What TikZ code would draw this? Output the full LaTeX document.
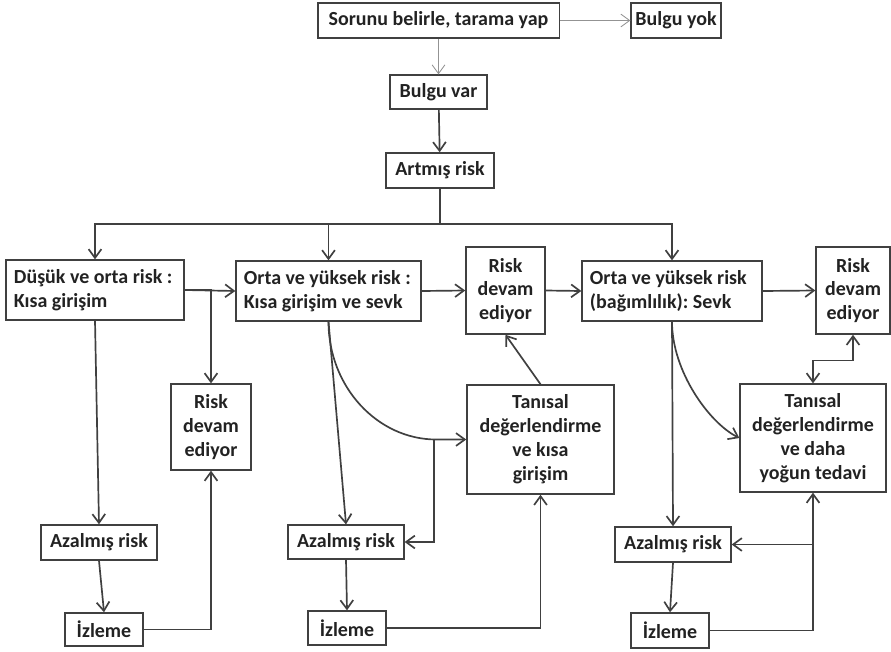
\documentclass[tikz,border=0pt]{standalone}
\usepackage{fontspec}
\setmainfont{Carlito}
\usetikzlibrary{arrows.meta,positioning}
\definecolor{boxLine}{RGB}{64,64,64}
\definecolor{textDark}{RGB}{34,34,34}
\frenchspacing

\begin{document}
\begin{tikzpicture}[
    x=0.025cm, y=-0.025cm,
    box/.style={draw=boxLine, line width=0.9pt, text=textDark, inner sep=0pt,
      font=\bfseries\fontsize{14.2}{17}\selectfont, align=center},
    lbox/.style={box, align=flush left, inner xsep=0.2cm},
    link/.style={->, line width=1.2pt, draw=boxLine},
    faint/.style={->, line width=0.6pt, draw=gray!85},
    >={Straight Barb[length=2.2mm,width=3.2mm]}
  ]
  \useasboundingbox (0,0) rectangle (891,651);

  % top of the chart
  \node[box, minimum width=6.03cm, minimum height=0.88cm] (sorun) at (438.5,20.5) {Sorunu belirle, tarama yap};
  \node[box, minimum width=2.25cm, minimum height=0.88cm] (yok) at (676,20.5) {Bulgu yok};
  \node[box, minimum width=2.43cm, minimum height=0.85cm] (var) at (438.5,92) {Bulgu var};
  \node[box, minimum width=2.7cm, minimum height=0.88cm] (artmis) at (440,170.5) {Artmış risk};

  % risk levels
  \node[lbox, text width=4.05cm, minimum height=1.5cm] (dusuk) at (95,290) {Düşük ve orta risk :\\Kısa girişim};
  \node[lbox, text width=4.225cm, minimum height=1.5cm] (ortaA) at (328.5,291) {Orta ve yüksek risk :\\Kısa girişim ve sevk};
  \node[box, minimum width=1.98cm, minimum height=2.18cm] (devamA) at (505.5,290.5) {Risk\\devam\\ediyor};
  \node[lbox, text width=4.1cm, minimum height=1.5cm] (ortaB) at (672,291) {Orta ve yüksek risk\\(bağımlılık): Sevk};
  \node[box, minimum width=1.85cm, minimum height=2.18cm] (devamB) at (853,290.5) {Risk\\devam\\ediyor};

  % second row
  \node[box, minimum width=2.0cm, minimum height=2.15cm] (devamL) at (211,427) {Risk\\devam\\ediyor};
  \node[box, minimum width=3.68cm, minimum height=2.73cm] (tanA) at (540.5,439.5) {Tanısal\\değerlendirme\\ve kısa\\girişim};
  \node[box, minimum width=3.65cm, minimum height=2.7cm] (tanB) at (813,438) {Tanısal\\değerlendirme\\ve daha\\yoğun tedavi};

  % bottom rows
  \node[box, minimum width=2.9cm, minimum height=0.88cm] (azL) at (99,542.5) {Azalmış risk};
  \node[box, minimum width=1.95cm, minimum height=0.83cm] (izL) at (104,629.5) {İzleme};
  \node[box, minimum width=2.9cm, minimum height=0.85cm] (azA) at (346,542) {Azalmış risk};
  \node[box, minimum width=1.95cm, minimum height=0.85cm] (izA) at (347,628) {İzleme};
  \node[box, minimum width=2.9cm, minimum height=0.88cm] (azB) at (673,544.5) {Azalmış risk};
  \node[box, minimum width=1.95cm, minimum height=0.88cm] (izB) at (670,630.5) {İzleme};

  % connectors
  \draw[faint] (sorun) -- (yok);
  \draw[faint] (sorun) -- (var);
  \draw[link] (var) -- (artmis);
  \draw[link] (artmis.south) -- ++(0,35) -| (dusuk.north);
  \draw[link] (artmis.south) -- ++(0,35) -| (ortaA.north);
  \draw[link] (artmis.south) -- ++(0,35) -| (ortaB.north);

  \draw[link] (dusuk.east) -- (ortaA.west);
  \draw[link] (dusuk.east) -| (devamL.north);
  \draw[link] (ortaA.east) -- (devamA.west);
  \draw[link] (devamA.east) -- (ortaB.west);
  \draw[link] (ortaB.east) -- (devamB.west);

  \draw[link] (dusuk.south) -- (azL.north);
  \draw[link] (azL.south) -- (izL.north);
  \draw[link] (izL.east) -| (devamL.south);

  \draw[link] (ortaA.south) -- (azA.north);
  \draw[link] (ortaA.south) .. controls +(0,65) and +(-59,0) .. ([xshift=-0.75cm]tanA.west) -- (tanA.west);
  \draw[link] (tanA.west) -- ++(-32,0) |- (azA.east);
  \draw[link] (tanA.north) -- (devamA.south);
  \draw[link] (azA.south) -- (izA.north);
  \draw[link] (izA.east) -| (tanA.south);

  \draw[link] (ortaB.south) -- (azB.north);
  \draw[link] (ortaB.south) .. controls +(0,50) and +(-30,-15) .. (tanB.west);
  \draw[link, <->] (tanB.north) -- ++(0,-23) -| (devamB.south);
  \draw[link] (azB.south) -- (izB.north);
  \draw[link] (izB.east) -| (tanB.south);
  \draw[link] (tanB.south |- azB.east) -- (azB.east);
\end{tikzpicture}
\end{document}
